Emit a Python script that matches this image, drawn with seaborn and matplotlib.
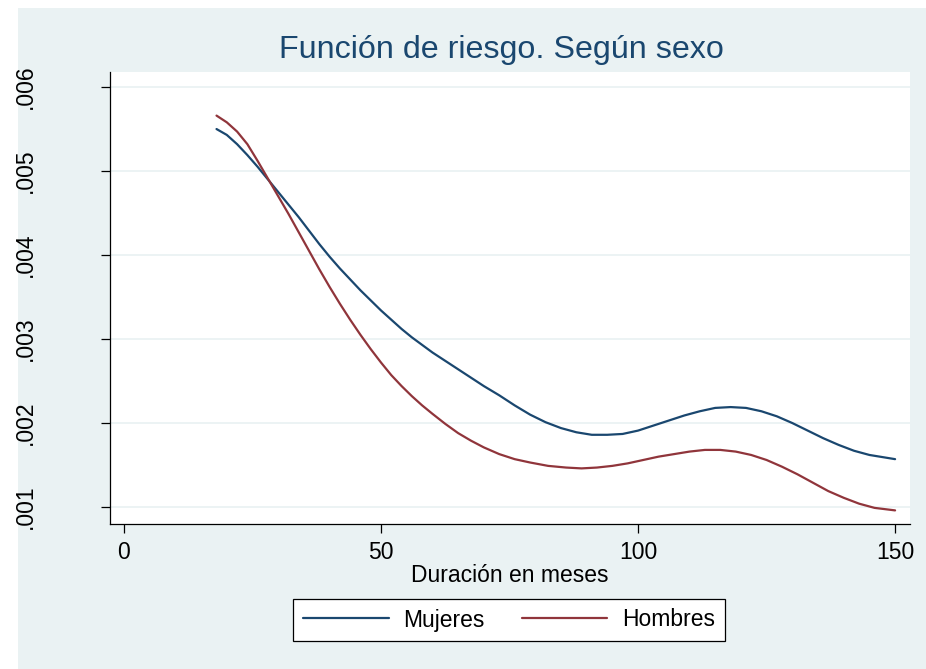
import numpy as np
import pandas as pd
import matplotlib
matplotlib.use("Agg")
import matplotlib.pyplot as plt
import seaborn as sns
from matplotlib.patches import Rectangle

# Hazard estimates (months, hazard)
mujeres_x = [18, 20, 22, 24, 26, 28, 30, 32, 34, 36, 38, 40, 42, 44, 46, 48,
             50, 52, 54, 56, 58, 60, 62.5, 65, 67.5, 70, 73, 76, 79, 82, 85,
             88, 91, 94, 97, 100, 103, 106, 109, 112, 115, 118, 121, 124, 127,
             130, 133, 136, 139, 142, 145, 150]
mujeres_y = [0.00550, 0.00543, 0.00532, 0.00519, 0.00505, 0.00490, 0.00475,
             0.00460, 0.00445, 0.00429, 0.00413, 0.00398, 0.00384, 0.00371,
             0.00358, 0.00346, 0.00334, 0.00323, 0.00312, 0.00302, 0.00293,
             0.00284, 0.00274, 0.00264, 0.00254, 0.00244, 0.00233, 0.00221,
             0.00210, 0.00201, 0.00194, 0.00189, 0.00186, 0.00186, 0.00187,
             0.00191, 0.00197, 0.00203, 0.00209, 0.00214, 0.00218, 0.00219,
             0.00218, 0.00214, 0.00208, 0.00200, 0.00191, 0.00182, 0.00174,
             0.00167, 0.00162, 0.00157]

hombres_x = [18, 20, 22, 24, 26, 28, 30, 32, 34, 36, 38, 40, 42, 44, 46, 48,
             50, 52, 54, 56, 58, 60, 62.5, 65, 67.5, 70, 73, 76, 79, 82.5, 86,
             89, 92, 95, 98, 101, 104, 107, 110, 113, 116, 119, 122, 125, 128,
             131, 134, 137, 140, 143, 146, 150]
hombres_y = [0.00566, 0.00558, 0.00547, 0.00532, 0.00512, 0.00491, 0.00470,
             0.00449, 0.00427, 0.00405, 0.00383, 0.00362, 0.00342, 0.00323,
             0.00305, 0.00288, 0.00272, 0.00257, 0.00244, 0.00232, 0.00221,
             0.00211, 0.00199, 0.00188, 0.00179, 0.00171, 0.00163, 0.00157,
             0.00153, 0.00149, 0.00147, 0.00146, 0.00147, 0.00149, 0.00152,
             0.00156, 0.00160, 0.00163, 0.00166, 0.00168, 0.00168, 0.00166,
             0.00162, 0.00156, 0.00148, 0.00139, 0.00129, 0.00119, 0.00111,
             0.00104, 0.00099, 0.00096]

x_ticks = [0, 50, 100, 150]
y_ticks = [0.001, 0.002, 0.003, 0.004, 0.005, 0.006]
y_tick_labels = [".001", ".002", ".003", ".004", ".005", ".006"]
series_names = ["Mujeres", "Hombres"]

df = pd.concat([
    pd.DataFrame({"meses": mujeres_x, "riesgo": mujeres_y, "sexo": "Mujeres"}),
    pd.DataFrame({"meses": hombres_x, "riesgo": hombres_y, "sexo": "Hombres"}),
])

sns.set_style("white")
plt.rcParams["font.family"] = ["Liberation Sans", "DejaVu Sans"]

BG = "#EAF2F3"
NAVY = "#1a476f"
MAROON = "#90353b"
FS = 16.5

fig = plt.figure(figsize=(9.26, 6.69), dpi=100, facecolor=BG)
# white strips on the left and top edges of the image
fig.patches.append(Rectangle((0, 0), 18 / 926, 1, transform=fig.transFigure,
                             facecolor="white", edgecolor="none"))
fig.patches.append(Rectangle((0, 1 - 8 / 669), 1, 8 / 669, transform=fig.transFigure,
                             facecolor="white", edgecolor="none"))

ax = fig.add_axes([110 / 926, 1 - 524 / 669, 800 / 926, 452 / 669])
ax.set_facecolor("white")
ax.set_zorder(2)

sns.lineplot(data=df, x="meses", y="riesgo", hue="sexo", hue_order=series_names,
             palette=[NAVY, MAROON], estimator=None, sort=False,
             linewidth=1.6, ax=ax, legend=False)
for line in ax.lines:
    line.set_solid_joinstyle("round")

ax.set_xlim(-2.72, 152.9)
ax.set_ylim(0.000798, 0.006179)
ax.set_xticks(x_ticks)
ax.set_xticklabels([str(t) for t in x_ticks])
ax.set_yticks(y_ticks)
ax.set_yticklabels(y_tick_labels, rotation=90, va="center")

ax.grid(axis="y", color=BG, linewidth=1.3)
ax.grid(axis="x", visible=False)
for side in ["top", "right"]:
    ax.spines[side].set_visible(False)
for side in ["left", "bottom"]:
    ax.spines[side].set_color("#000000")
    ax.spines[side].set_linewidth(0.9)

ax.tick_params(axis="both", which="major", direction="out", length=6.5,
               width=0.9, color="#000000", labelsize=FS, labelcolor="#000000",
               left=True, bottom=True)
ax.tick_params(axis="y", pad=46)
ax.tick_params(axis="x", pad=6)

ax.set_xlabel("Duración en meses", fontsize=FS, color="#000000", labelpad=0)
ax.set_ylabel("")

fig.text(501 / 926, 1 - 50 / 669, "Función de riesgo. Según sexo",
         fontsize=23.2, color=NAVY, ha="center", va="center")

handles = [plt.Line2D([], [], color=NAVY, linewidth=1.6),
           plt.Line2D([], [], color=MAROON, linewidth=1.6)]
leg = fig.legend(handles, series_names, loc="center",
                 bbox_to_anchor=(509 / 926, 1 - 620 / 669), ncol=2,
                 fontsize=FS, frameon=True, fancybox=False, framealpha=1,
                 handlelength=3.75, handletextpad=0.65, columnspacing=1.6,
                 borderpad=0.4)
leg.get_frame().set_edgecolor("#000000")
leg.get_frame().set_linewidth(0.9)
leg.get_frame().set_facecolor("white")
for txt in leg.get_texts():
    txt.set_color("#000000")

plt.savefig("out.png", dpi=100, facecolor=fig.get_facecolor())
